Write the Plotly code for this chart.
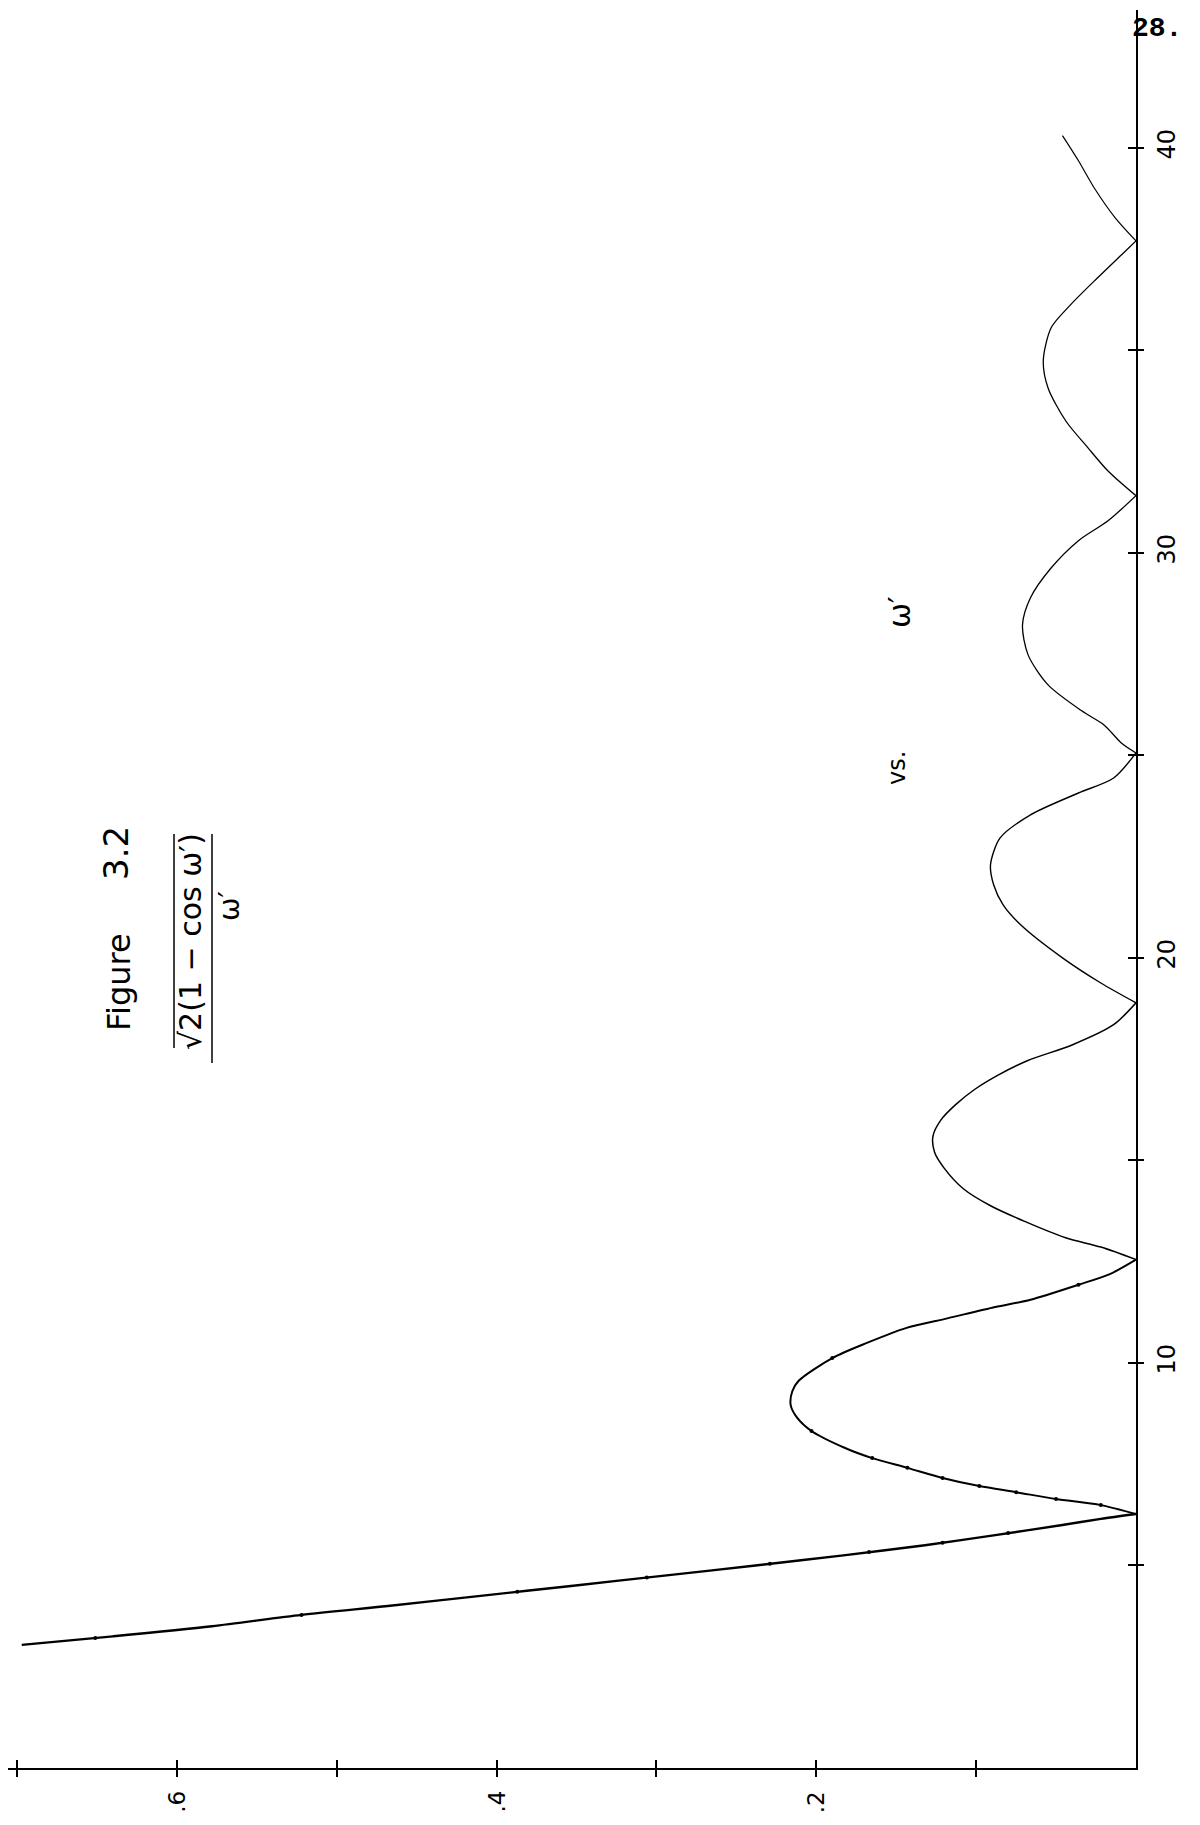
import plotly.graph_objects as go

# ---- data (value vs w') ----
lobe1_w = [3.04, 3.25, 3.5, 3.78, 4.0, 4.25, 4.5, 4.75, 5.0, 5.25, 5.5, 5.75, 6.0, 6.15, 6.27]
lobe1_v = [0.697, 0.640, 0.578, 0.522, 0.468, 0.410, 0.352, 0.295, 0.238, 0.183, 0.132, 0.088, 0.046, 0.022, 0.0]

lobe2_w = [6.27, 6.49, 6.64, 6.81, 6.96, 7.16, 7.41, 7.65, 7.9, 8.32, 8.65, 8.96, 9.3, 9.56, 10.12, 10.5, 10.86, 11.1, 11.38, 11.56, 11.93, 12.2, 12.55]
lobe2_v = [0.0, 0.022, 0.050, 0.075, 0.098, 0.121, 0.143, 0.165, 0.182, 0.203, 0.212, 0.216, 0.215, 0.211, 0.190, 0.168, 0.144, 0.118, 0.088, 0.066, 0.036, 0.016, 0.0]

lobe3_w = [12.55, 12.86, 13.09, 13.5, 13.88, 14.3, 14.81, 15.2, 15.6, 16.0, 16.37, 16.75, 17.11, 17.46, 17.85, 18.35, 18.89]
lobe3_v = [0.0, 0.022, 0.044, 0.070, 0.091, 0.108, 0.120, 0.126, 0.127, 0.122, 0.113, 0.101, 0.086, 0.068, 0.040, 0.014, 0.0]

lobe4_w = [18.89, 19.38, 20.0, 20.81, 21.3, 21.8, 22.3, 22.96, 23.53, 24.07, 24.44, 25.06]
lobe4_v = [0.0, 0.022, 0.046, 0.072, 0.083, 0.089, 0.091, 0.085, 0.066, 0.036, 0.014, 0.0]

lobe5_w = [25.06, 25.3, 25.75, 26.1, 26.74, 27.48, 28.22, 28.89, 29.63, 30.3, 30.79, 31.41]
lobe5_v = [0.0, 0.009, 0.020, 0.034, 0.055, 0.0675, 0.071, 0.066, 0.053, 0.036, 0.0175, 0.0]

lobe6_w = [31.41, 32.02, 32.59, 33.26, 34.07, 34.74, 35.56, 36.12, 36.79, 37.36, 37.7]
lobe6_v = [0.0, 0.0175, 0.030, 0.044, 0.055, 0.058, 0.053, 0.041, 0.024, 0.009, 0.0]

lobe7_w = [37.7, 38.27, 39.0, 39.68, 40.3]
lobe7_v = [0.0, 0.013, 0.026, 0.036, 0.046]

dot_w = [3.21, 3.78, 4.35, 4.70, 5.04, 5.33, 5.56, 5.80, 6.49, 6.64, 6.81, 6.96, 7.16, 7.41, 7.65, 8.32, 10.12, 11.93]
dot_v = [0.651, 0.522, 0.387, 0.306, 0.229, 0.167, 0.121, 0.080, 0.022, 0.050, 0.075, 0.098, 0.121, 0.143, 0.165, 0.203, 0.190, 0.036]

w_tick_vals = [5, 10, 15, 20, 25, 30, 35, 40]
w_tick_text = ["", "10", "", "20", "", "30", "", "40"]
v_tick_vals = [0.1, 0.2, 0.3, 0.4, 0.5, 0.6, 0.7]
v_tick_text = ["", ".2", "", ".4", "", ".6", ""]

lobes = [(lobe1_w, lobe1_v, 2.4), (lobe2_w, lobe2_v, 2.0), (lobe3_w, lobe3_v, 1.5),
         (lobe4_w, lobe4_v, 1.4), (lobe5_w, lobe5_v, 1.3), (lobe6_w, lobe6_v, 1.3),
         (lobe7_w, lobe7_v, 1.2)]

# The page body has an 8px margin, so the figure is sized to fit inside the window.
OFF = 8
W, H = 1200 - 2 * OFF, 1825 - 2 * OFF
PLOT_L, PLOT_R, PLOT_T, PLOT_B = 8, 1136, 10, 1768   # plot area in page pixels
L, R, T, B = PLOT_L - OFF, W - (PLOT_R - OFF), PLOT_T - OFF, H - (PLOT_B - OFF)
PW, PH = PLOT_R - PLOT_L, PLOT_B - PLOT_T


def px(x):
    return (x - PLOT_L) / PW


def py(y):
    return (PLOT_B - y) / PH


fig = go.Figure()
for ws, vs, lw in lobes:
    fig.add_trace(go.Scatter(x=vs, y=ws, mode="lines",
                             line=dict(color="black", width=lw, shape="spline", smoothing=0.8),
                             showlegend=False, hoverinfo="skip"))

fig.add_trace(go.Scatter(x=dot_v, y=dot_w, mode="markers", xaxis="x2", yaxis="y2",
                         marker=dict(color="black", size=4), showlegend=False, hoverinfo="skip"))

font_hand = "DejaVu Sans"

fig.update_layout(
    width=W, height=H,
    margin=dict(l=L, r=R, t=T, b=B),
    paper_bgcolor="white", plot_bgcolor="white",
    showlegend=False,
    xaxis=dict(range=[0.7056, 0], showgrid=False, zeroline=False,
               showline=True, linecolor="black", linewidth=2,
               ticks="inside", ticklen=8, tickwidth=1.5, tickcolor="black",
               tickvals=v_tick_vals, showticklabels=False, anchor="y"),
    xaxis2=dict(overlaying="x", matches="x", side="bottom", anchor="y",
                showgrid=False, zeroline=False, showline=False,
                ticks="outside", ticklen=8, tickwidth=1.5, tickcolor="black",
                tickvals=v_tick_vals, showticklabels=False),
    yaxis=dict(range=[0, 43.4], showgrid=False, zeroline=False, side="right",
               showline=True, linecolor="black", linewidth=1.5,
               ticks="inside", ticklen=8, tickwidth=1.5, tickcolor="black",
               tickvals=w_tick_vals, showticklabels=False, anchor="x"),
    yaxis2=dict(overlaying="y", matches="y", side="right", anchor="x",
                showgrid=False, zeroline=False, showline=False,
                ticks="outside", ticklen=7, tickwidth=1.5, tickcolor="black",
                tickvals=w_tick_vals, ticktext=w_tick_text, tickangle=-90,
                ticklabelstandoff=2,
                tickfont=dict(family=font_hand, size=24, color="black")),
)

ann = [
    dict(text="<b>28.</b>", x=px(1157), y=py(28), font=dict(family="Liberation Mono", size=28), textangle=0),
    dict(text="Figure", x=px(119), y=py(982), font=dict(family=font_hand, size=32), textangle=-90),
    dict(text="3.2", x=px(116), y=py(853), font=dict(family=font_hand, size=34), textangle=-90),
    dict(text="√2(1 − cos ω′)", x=px(190), y=py(942), font=dict(family=font_hand, size=30), textangle=-90),
    dict(text="ω′", x=px(230), y=py(906), font=dict(family=font_hand, size=28), textangle=-90),
    dict(text="vs.", x=px(897), y=py(768), font=dict(family=font_hand, size=24), textangle=-90),
    dict(text="ω′", x=px(899), y=py(612), font=dict(family=font_hand, size=30), textangle=-90),
]
for a in ann:
    a.update(xref="paper", yref="paper", xanchor="center", yanchor="middle", showarrow=False)
    a["font"]["color"] = "black"

# value-axis tick labels, placed through the x axis scale
for v, t in zip(v_tick_vals, v_tick_text):
    if t:
        ann.append(dict(text=t, x=v, xref="x", y=py(1802), yref="paper", showarrow=False,
                        xanchor="center", yanchor="middle", textangle=-90,
                        font=dict(family=font_hand, size=23, color="black")))

fig.update_layout(annotations=ann)

shapes = [
    dict(type="line", x0=px(174), x1=px(174), y0=py(834), y1=py(1048)),
    dict(type="line", x0=px(212), x1=px(212), y0=py(834), y1=py(1063)),
]
for s in shapes:
    s.update(xref="paper", yref="paper", line=dict(color="black", width=1.5))
fig.update_layout(shapes=shapes)

fig.write_html("out.html")
